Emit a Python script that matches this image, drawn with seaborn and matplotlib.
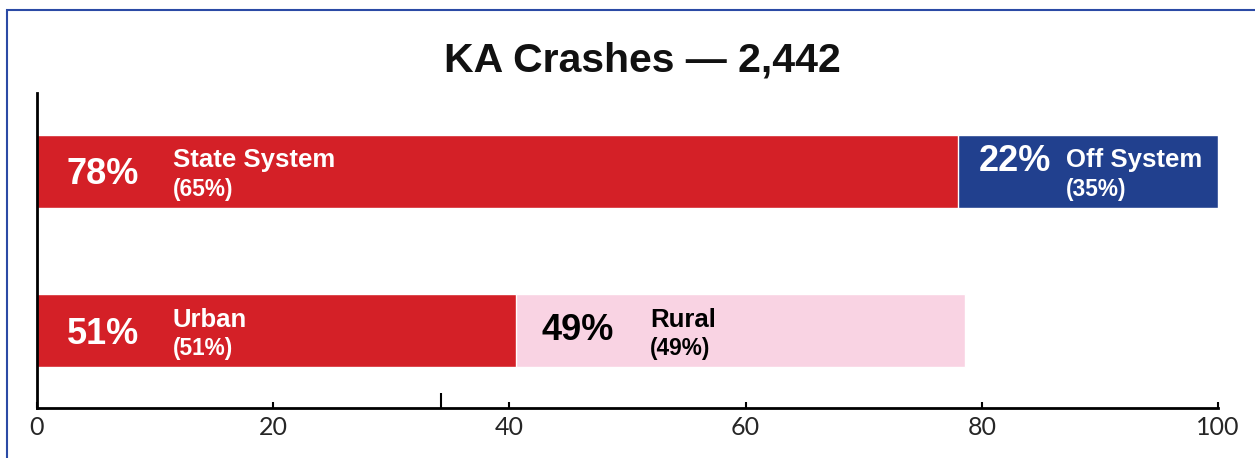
import matplotlib
matplotlib.use("Agg")
import matplotlib.pyplot as plt
from matplotlib.patches import Rectangle
import seaborn as sns
import pandas as pd

# data
rows = ["System", "Area"]
first_labels = ["State System", "Urban"]
first_vals = [78.0, 40.6]
second_labels = ["Off System", "Rural"]
second_vals = [22.0, 38.0]
first_pct = ["78%", "51%"]
second_pct = ["22%", "49%"]
first_share = ["(65%)", "(51%)"]
second_share = ["(35%)", "(49%)"]
title = "KA Crashes \u2014 2,442"
xticks = [0, 20, 40, 60, 80, 100]
marker_ticks = [34.2]

red = "#D42027"
blue = "#21408E"
pink = "#F9D3E3"

sns.set_theme(style="white")
plt.rcParams["font.family"] = ["Liberation Sans", "DejaVu Sans"]

df = pd.DataFrame({
    "row": rows,
    "first": first_vals,
    "total": [a + b for a, b in zip(first_vals, second_vals)],
})

fig = plt.figure(figsize=(12.55, 4.58), dpi=100)
ax = fig.add_axes([37 / 1255, 50 / 458, 1181 / 1255, 315 / 458])

# stacked: total bar underneath, first segment on top
sns.barplot(data=df, x="total", y="row", hue="row", palette=[blue, pink],
            orient="h", width=0.458, legend=False, saturation=1, ax=ax)
sns.barplot(data=df, x="first", y="row", hue="row", palette=[red, red],
            orient="h", width=0.458, legend=False, saturation=1, ax=ax)

ax.set_xlim(0, 100)
ax.set_ylim(1.483, -0.492)
ax.set_xlabel("")
ax.set_ylabel("")
ax.set_yticks([])
ax.set_xticks(xticks)
ax.set_xticks(marker_ticks, minor=True)
ax.set_xticklabels([str(t) for t in xticks], fontfamily="Lato", fontsize=18)
ax.tick_params(axis="x", which="major", direction="in", length=4, width=1.5,
               color="black", pad=6, bottom=True)
ax.tick_params(axis="x", which="minor", direction="in", length=11, width=1.5,
               color="black", bottom=True)
for side in ["top", "right"]:
    ax.spines[side].set_visible(False)
for side in ["left", "bottom"]:
    ax.spines[side].set_color("black")
    ax.spines[side].set_linewidth(2)

pct_size, name_size, share_size = 26, 18.5, 16.3

# labels inside the bars
for i in range(2):
    y = i
    ax.text(5.6, y + 0.02, first_pct[i], color="white", fontsize=pct_size,
            fontweight="bold", ha="center", va="center")
    ax.text(11.5, y - 0.07, first_labels[i], color="white", fontsize=name_size,
            fontweight="bold", ha="left", va="center")
    ax.text(11.5, y + 0.11, first_share[i], color="white", fontsize=share_size,
            fontweight="bold", ha="left", va="center")

ax.text(82.8, -0.06, second_pct[0], color="white", fontsize=pct_size,
        fontweight="bold", ha="center", va="center")
ax.text(87.1, -0.07, second_labels[0], color="white", fontsize=name_size,
        fontweight="bold", ha="left", va="center")
ax.text(87.1, 0.11, second_share[0], color="white", fontsize=share_size,
        fontweight="bold", ha="left", va="center")

ax.text(45.8, 1.0, second_pct[1], color="black", fontsize=pct_size,
        fontweight="bold", ha="center", va="center")
ax.text(51.9, 0.93, second_labels[1], color="black", fontsize=name_size,
        fontweight="bold", ha="left", va="center")
ax.text(51.9, 1.11, second_share[1], color="black", fontsize=share_size,
        fontweight="bold", ha="left", va="center")

fig.text(642 / 1255, 1 - 60 / 458, title, fontsize=29.5, fontweight="bold",
         ha="center", va="center", color="#111111")

# blue frame, top and left edges only visible
fig.add_artist(Rectangle((7 / 1255, -0.2), 1.2, 1.2 - 10 / 458,
                         transform=fig.transFigure, fill=False,
                         edgecolor="#2B4AA5", linewidth=1.5, clip_on=False))

fig.savefig("out.png", dpi=100)
